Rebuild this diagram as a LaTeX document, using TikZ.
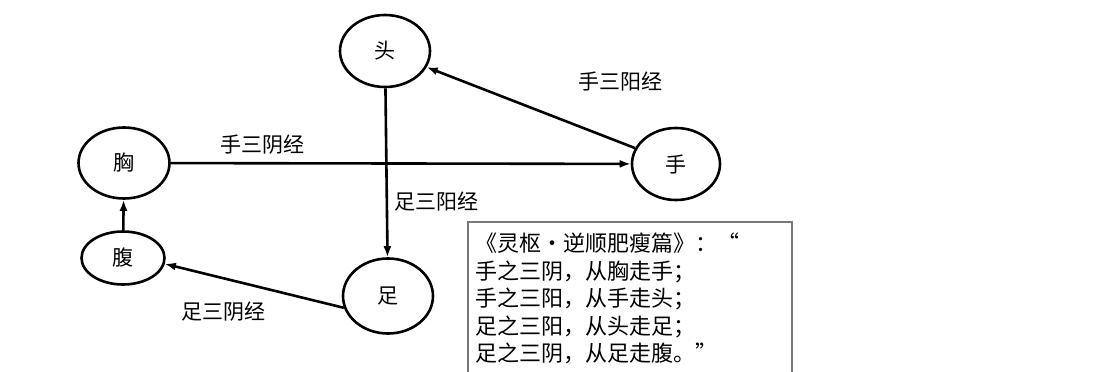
\documentclass[tikz,border=0pt]{standalone}
\usepackage{fontspec}
\setmainfont{Noto Sans CJK SC}
\usetikzlibrary{arrows.meta,shapes.geometric}
\definecolor{boxline}{RGB}{120,120,120}

\begin{document}
\begin{tikzpicture}[x=1pt,y=-1pt]
\tikzstyle{part} = [ellipse, draw, line width=2.6pt, inner sep=0pt, font=\fontsize{21}{21}\selectfont]
\tikzstyle{flow} = [-{Latex[length=11pt,width=8pt]}, line width=2.6pt]
\tikzstyle{jing} = [font=\fontsize{21}{21}\selectfont]
\useasboundingbox (0,0) rectangle (1111,372);
\clip (0,0) rectangle (1111,372);
\node[part, minimum width=90pt, minimum height=72pt] (tou) at (385,51) {头};
\node[part, minimum width=91pt, minimum height=71pt] (xiong) at (124,163) {胸};
\node[part, minimum width=83pt, minimum height=53pt] (fu) at (123,258) {腹};
\node[part, minimum width=90pt, minimum height=75pt] (zu) at (388,296) {足};
\node[part, minimum width=88pt, minimum height=72pt] (shou) at (676,164) {手};
\draw[flow] (xiong) -- node[jing, above, pos=.2, yshift=4pt] {手三阴经} (shou);
\draw[flow] (tou) -- node[jing, right, pos=.67, xshift=3pt] {足三阳经} (zu);
\draw[flow] (shou) -- (tou);
\node[jing] (shouyang) at (620,81) {手三阳经};
\draw[flow] (zu.195) -- (fu.-8);
\node[jing] (zuyin) at (223,312) {足三阴经};
\draw[flow] (fu) -- (xiong);
\node[draw=boxline, line width=2pt, anchor=north west, align=left, text width=310pt,
  inner xsep=7pt, inner ysep=11pt, font=\fontsize{22}{27.5}\selectfont] (yuanwen) at (467,221)
  {《灵枢·逆顺肥瘦篇》：“\\手之三阴，从胸走手；\\手之三阳，从手走头；\\足之三阳，从头走足；\\足之三阴，从足走腹。”};
\end{tikzpicture}
\end{document}
